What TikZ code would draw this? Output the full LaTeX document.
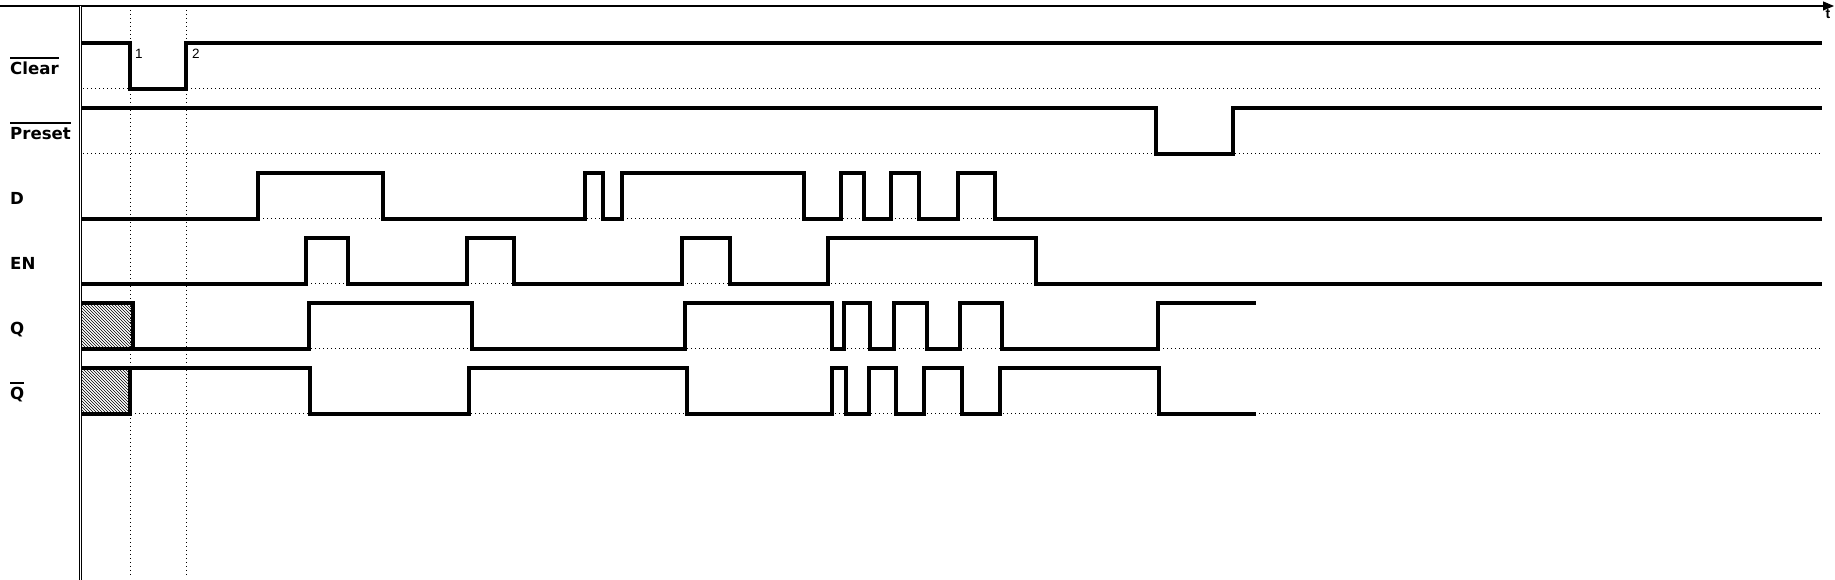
\documentclass[tikz,border=0pt]{standalone}
\usepackage{fontspec}
\setmainfont{DejaVu Sans}
\newfontfamily\markfont{Liberation Sans}
\usepackage{tikz}
\usetikzlibrary{arrows.meta,patterns}
\newcommand{\rowGap}{65}
\newcommand{\hiLvl}{46}
\newcommand{\topRow}{491}
\tikzset{
  sigline/.style  ={line width=3.2pt,line join=miter},
  gridline/.style ={line width=1pt,dash pattern=on 1pt off 3pt},
  axisline/.style ={line width=1.1pt},
  hatchbox/.style ={pattern=north west lines},
  siglab/.style   ={inner sep=0pt,font=\fontsize{16.6}{18}\selectfont\bfseries},
  marklab/.style  ={inner sep=0pt,font=\markfont\fontsize{13.5}{15}\selectfont},
  tlab/.style     ={inner sep=0pt,font=\markfont\fontsize{14}{15}\selectfont\bfseries},
}
\newcommand{\barred}[1]{\vbox{\hrule height 2pt\kern 3.6pt\hbox{#1}}}
\newcommand{\sigrow}[3]{%
  \pgfmathsetmacro{\ybase}{\topRow-\rowGap*#2}%
  \coordinate (#1) at (0,\ybase);
  \node[siglab,anchor=base west] (#1lab) at (10,\ybase+14) {#3};
  \draw[gridline] (83,\ybase) -- (1820,\ybase);
}
\begin{document}
\begin{tikzpicture}[x=1pt,y=1pt]
  \useasboundingbox (0,0) rectangle (1835,580);
  \sigrow{clr}{0}{\barred{Clear}}
  \sigrow{pre}{1}{\barred{Preset}}
  \sigrow{d}{2}{D}
  \sigrow{en}{3}{EN}
  \sigrow{q}{4}{Q}
  \sigrow{qn}{5}{\barred{Q}}
  % time axis, left border and the two marker lines
  \draw[axisline,-{Triangle[length=11pt,width=9pt]}] (0,574) -- (1834,574);
  \node[tlab,anchor=base] (tax) at (1828,561) {t};
  \draw[axisline,double,double distance=1pt] (80.3,574) -- (80.3,0);
  \draw[gridline] (130,574) -- (130,3);
  \draw[gridline] (186,574) -- (186,3);
  \node[marklab,anchor=base west] (mk1) at (135,521) {1};
  \node[marklab,anchor=base west] (mk2) at (192,521) {2};
  % waveforms, each row shifted to its baseline
  \begin{scope}[shift={(clr)}]
    \draw[sigline] (82,\hiLvl) -| (130,0) -| (186,\hiLvl) -- (1822,\hiLvl);
  \end{scope}
  \begin{scope}[shift={(pre)}]
    \draw[sigline] (82,\hiLvl) -| (1156,0) -| (1233,\hiLvl) -- (1822,\hiLvl);
  \end{scope}
  \begin{scope}[shift={(d)}]
    \draw[sigline] (82,0) -| (258,\hiLvl) -| (383,0) -| (585,\hiLvl) -| (603,0)
      -| (622,\hiLvl) -| (804,0) -| (841,\hiLvl) -| (864,0) -| (891,\hiLvl)
      -| (919,0) -| (958,\hiLvl) -| (995,0) -- (1822,0);
  \end{scope}
  \begin{scope}[shift={(en)}]
    \draw[sigline] (82,0) -| (306,\hiLvl) -| (348,0) -| (467,\hiLvl) -| (514,0)
      -| (682,\hiLvl) -| (730,0) -| (828,\hiLvl) -| (1036,0) -- (1822,0);
  \end{scope}
  \begin{scope}[shift={(q)}]
    \fill[hatchbox] (81.8,0) rectangle (133,\hiLvl);
    \draw[sigline] (82,\hiLvl) -| (133,0);
    \draw[sigline] (82,0) -| (309,\hiLvl) -| (472,0) -| (685,\hiLvl) -| (832,0)
      -| (844,\hiLvl) -| (870,0) -| (894,\hiLvl) -| (927,0) -| (960,\hiLvl)
      -| (1002,0) -| (1158,\hiLvl) -- (1256,\hiLvl);
  \end{scope}
  \begin{scope}[shift={(qn)}]
    \fill[hatchbox] (81.8,0) rectangle (130,\hiLvl);
    \draw[sigline] (82,0) -| (130,\hiLvl);
    \draw[sigline] (82,\hiLvl) -| (310,0) -| (469,\hiLvl) -| (687,0) -| (832,\hiLvl)
      -| (846,0) -| (869,\hiLvl) -| (896,0) -| (924,\hiLvl) -| (962,0)
      -| (1000,\hiLvl) -| (1159,0) -- (1256,0);
  \end{scope}
\end{tikzpicture}
\end{document}
